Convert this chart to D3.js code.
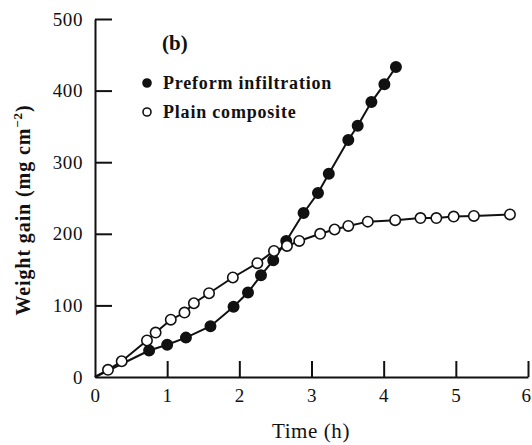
<!DOCTYPE html>
<html>
<head>
<meta charset="utf-8">
<script src="https://cdn.jsdelivr.net/npm/d3@7"></script>
<style>
  body { margin: 0; background: #fff; }
  text { font-family: "Liberation Serif", "Times New Roman", serif; fill: #111; }
</style>
</head>
<body>
<div id="chart"></div>
<script>
// Preform infiltration (filled circles)
const preformTime = [0, 0.75, 1.0, 1.26, 1.6, 1.92, 2.12, 2.3, 2.47, 2.65, 2.89, 3.09, 3.24, 3.51, 3.64, 3.83, 4.01, 4.17];
const preformGain = [0, 37, 45, 55, 71, 98, 118, 142, 163, 190, 229, 257, 284, 331, 351, 384, 409, 433];

// Plain composite (open circles)
const plainTime = [0, 0.18, 0.37, 0.72, 0.84, 1.05, 1.24, 1.37, 1.58, 1.91, 2.25, 2.48, 2.66, 2.83, 3.12, 3.32, 3.51, 3.78, 4.16, 4.51, 4.73, 4.97, 5.25, 5.75];
const plainGain = [0, 10, 22, 51, 62, 80, 90, 103, 117, 139, 159, 176, 183, 190, 200, 206, 211, 217, 219, 222, 222, 224, 225, 227];

const xTicks = [0, 1, 2, 3, 4, 5, 6];
const yTicks = [0, 100, 200, 300, 400, 500];
const legendLabels = ["Preform infiltration", "Plain composite"];

const width = 532, height = 445;
const margin = {left: 95, right: 4, top: 19, bottom: 68};

const svg = d3.select("#chart").append("svg")
    .attr("width", width)
    .attr("height", height);

const x = d3.scaleLinear().domain([0, 6]).range([margin.left, width - margin.right]);
const y = d3.scaleLinear().domain([0, 500]).range([height - margin.bottom, margin.top]);

// axes: ticks point inward
const xAxis = svg.append("g")
    .attr("transform", `translate(0,${y(0)})`)
    .call(d3.axisBottom(x).tickValues(xTicks).tickFormat(d3.format("d"))
      .tickSize(-16).tickPadding(12).tickSizeOuter(0));
const yAxis = svg.append("g")
    .attr("transform", `translate(${x(0)},0)`)
    .call(d3.axisLeft(y).tickValues(yTicks).tickFormat(d3.format("d"))
      .tickSize(-17).tickPadding(12).tickSizeOuter(0));

[xAxis, yAxis].forEach(g => {
  g.select(".domain").attr("stroke", "#111").attr("stroke-width", 2);
  g.selectAll(".tick line").attr("stroke", "#111").attr("stroke-width", 2);
  g.selectAll(".tick text").attr("font-size", 19).attr("fill", "#111")
      .attr("letter-spacing", 0.6)
      .style("font-family", "'Liberation Serif', serif");
});
// no tick at the origin, the other axis is there
xAxis.selectAll(".tick").filter(d => d === 0).select("line").remove();
yAxis.selectAll(".tick").filter(d => d === 0).select("line").remove();
// last label sits against the right edge
xAxis.selectAll(".tick").filter(d => d === 6).select("text")
    .attr("text-anchor", "end").attr("dx", 3);

// axis titles
svg.append("text")
    .attr("x", 311).attr("y", 438)
    .attr("text-anchor", "middle")
    .attr("font-size", 21)
    .attr("letter-spacing", 0.6)
    .text("Time (h)");

const yTitle = svg.append("text")
    .attr("transform", `translate(30,210) rotate(-90)`)
    .attr("text-anchor", "middle")
    .attr("font-size", 20)
    .attr("letter-spacing", 0.9)
    .attr("font-weight", "bold");
yTitle.append("tspan").text("Weight gain (mg cm");
yTitle.append("tspan").attr("dy", -8).attr("font-size", 13).text("−2");
yTitle.append("tspan").attr("dy", 8).text(")");

// panel label
svg.append("text")
    .attr("x", 162).attr("y", 50)
    .attr("font-size", 21)
    .attr("font-weight", "bold")
    .text("(b)");

const line = d3.line().x(d => x(d[0])).y(d => y(d[1]));

const series = [
  {name: legendLabels[0], pts: preformTime.map((t, i) => [t, preformGain[i]]), fill: "#111"},
  {name: legendLabels[1], pts: plainTime.map((t, i) => [t, plainGain[i]]), fill: "#fff"}
];

series.forEach(s => {
  svg.append("path")
      .datum(s.pts)
      .attr("d", line)
      .attr("fill", "none")
      .attr("stroke", "#111")
      .attr("stroke-width", 2);
});

series.forEach(s => {
  svg.selectAll(null)
      .data(s.pts.filter(d => d[0] > 0))
      .enter().append("circle")
      .attr("cx", d => x(d[0]))
      .attr("cy", d => y(d[1]))
      .attr("r", 5.2)
      .attr("fill", s.fill)
      .attr("stroke", "#111")
      .attr("stroke-width", 1.6);
});

// legend
const legend = svg.selectAll(".legend")
    .data(series)
    .enter().append("g")
    .attr("class", "legend")
    .attr("transform", (d, i) => `translate(147,${83 + i * 29})`);

legend.append("circle")
    .attr("r", 4)
    .attr("fill", d => d.fill)
    .attr("stroke", "#111")
    .attr("stroke-width", 1.6);

legend.append("text")
    .attr("x", 16)
    .attr("dy", "0.35em")
    .attr("font-size", 18)
    .attr("letter-spacing", 0.8)
    .attr("font-weight", "bold")
    .text(d => d.name);
</script>
</body>
</html>
